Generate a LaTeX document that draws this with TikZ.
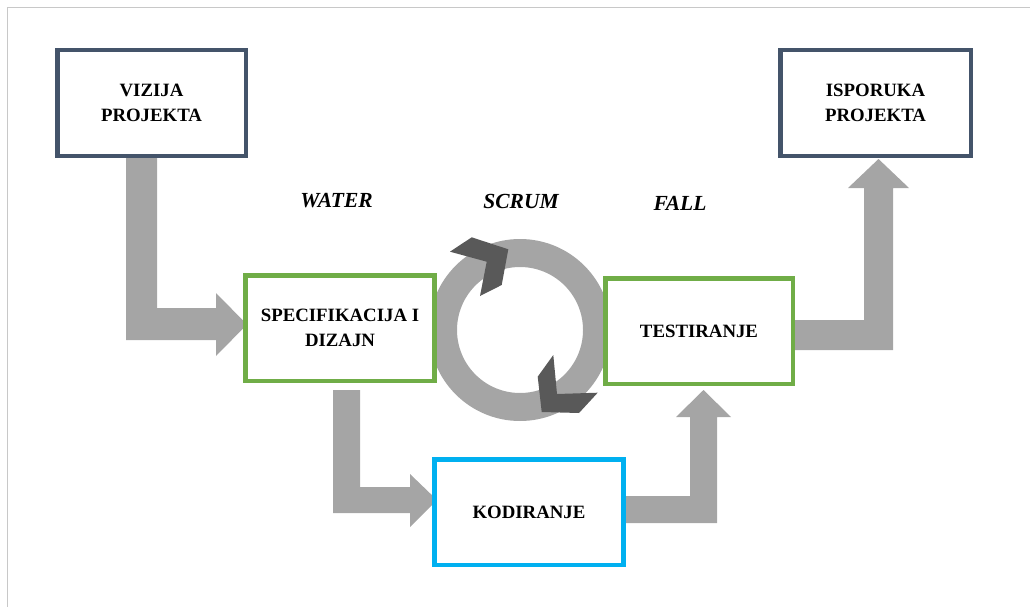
\documentclass[tikz,border=0pt]{standalone}
\usepackage{fontspec}
\setmainfont{Liberation Serif}
\definecolor{navyb}{HTML}{44546A}
\definecolor{greenb}{HTML}{70AD47}
\definecolor{cyanb}{HTML}{00B0F0}
\definecolor{arrgray}{HTML}{A5A5A5}
\definecolor{darkchev}{HTML}{595959}
\definecolor{framegray}{HTML}{C8C8C8}
\tikzset{
  boxnode/.style={draw, fill=white, line width=4.5pt, minimum width=189pt, minimum height=105.5pt,
    align=center, inner sep=0pt, font=\fontsize{18.8}{25.5}\selectfont\bfseries},
  lbl/.style={font=\fontsize{21.5}{24}\selectfont\bfseries\itshape, inner sep=0pt},
  blockarrow/.style={fill=arrgray, draw=none},
  chev/.style={fill=darkchev, draw=none}
}
\begin{document}
\begin{tikzpicture}[x=1pt,y=-1pt]
\useasboundingbox (0,0) rectangle (1030,607);
% frame
\draw[framegray, line width=1.5pt] (7.5,607) -- (7.5,7.5) -- (1030,7.5);
% block arrows
\fill[blockarrow] (126,158) -- (157,158) -- (157,308) -- (216,308) -- (216,293) -- (247,324.5) -- (216,356) -- (216,340) -- (126,340) -- cycle;
\fill[blockarrow] (333,390) -- (360,390) -- (360,487) -- (410,487) -- (410,474) -- (437,500) -- (410,527) -- (410,513) -- (333,513) -- cycle;
\fill[blockarrow] (620,496) -- (690,496) -- (690,417) -- (676,417) -- (703.5,390) -- (731,417) -- (717,417) -- (717,523) -- (620,523) -- cycle;
\fill[blockarrow] (790,320) -- (864,320) -- (864,188) -- (848,188) -- (878.5,159) -- (909,188) -- (893,188) -- (893,350) -- (790,350) -- cycle;
% ring
\coordinate (rc) at (520,330);
\fill[arrgray, even odd rule] (rc) circle[radius=91pt] (rc) circle[radius=63pt];
\fill[chev] (450,251.7) -- (471.7,237.3) -- (508.3,249.3) -- (501.7,285) -- (480,296) -- (486.7,261.7) -- cycle;
\fill[chev] (553.3,355) -- (537.7,376.7) -- (541.7,412) -- (579,413) -- (597.7,392.7) -- (557,394) -- cycle;
% boxes
\node[boxnode, draw=navyb, minimum width=188.5pt] (viz) at (151.5,103) {VIZIJA\\PROJEKTA};
\node[boxnode, draw=navyb, minimum width=190.5pt] (isp) at (875.5,103) {ISPORUKA\\PROJEKTA};
\node[boxnode, draw=greenb] (spec) at (340,328) {SPECIFIKACIJA I\\DIZAJN};
\node[boxnode, draw=greenb, minimum width=187.5pt] (test) at (699,331) {TESTIRANJE};
\node[boxnode, draw=cyanb] (kod) at (529,512) {KODIRANJE};
% labels
\node[lbl] (water) at (336.5,201) {WATER};
\node[lbl] (scrum) at (521,201) {SCRUM};
\node[lbl] (fall) at (680,203.5) {FALL};
\end{tikzpicture}
\end{document}
